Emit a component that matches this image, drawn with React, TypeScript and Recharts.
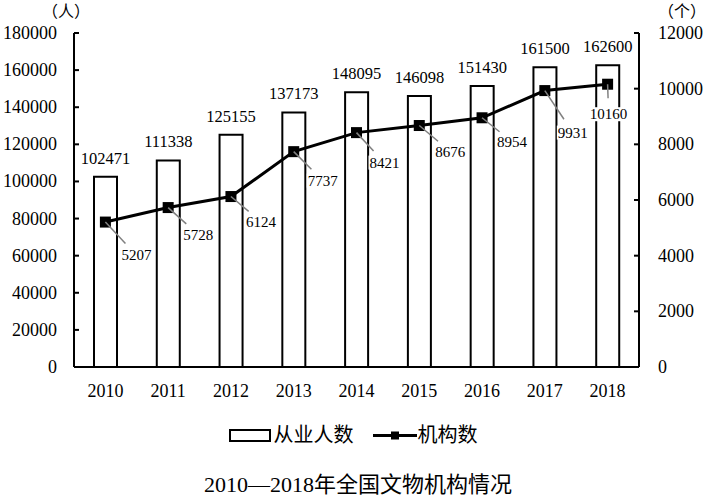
import React from 'react';
import { ComposedChart, Bar, Line, XAxis, YAxis, Legend, LabelList } from 'recharts';

// ===== data =====
const years = ['2010', '2011', '2012', '2013', '2014', '2015', '2016', '2017', '2018'];
const staffCount = [102471, 111338, 125155, 137173, 148095, 146098, 151430, 161500, 162600];
const orgCount = [5207, 5728, 6124, 7737, 8421, 8676, 8954, 9931, 10160];
const leftTicks = [0, 20000, 40000, 60000, 80000, 100000, 120000, 140000, 160000, 180000];
const rightTicks = [0, 2000, 4000, 6000, 8000, 10000, 12000];

// where each 机构数 label sits, relative to its marker
const orgLabelShift = [
  [31, 33], [30, 27], [30, 25], [29, 29], [28, 30], [31, 26], [30, 24], [28, 42], [1, 30],
];

const chartData = years.map((year, i) => ({ year, staff: staffCount[i], orgs: orgCount[i] }));

const SERIF = "'Liberation Serif', 'Times New Roman', 'Noto Sans CJK SC', serif";

const LeftTick = (props: any) => {
  const { x, y, payload } = props;
  return (
    <g>
      <line x1={x + 17} x2={x + 22} y1={y} y2={y} stroke="#000" strokeWidth={2} />
      <text x={x} y={y} dy={6} textAnchor="end" fontSize={18} fontFamily={SERIF} fill="#000">
        {payload.value}
      </text>
    </g>
  );
};

const RightTick = (props: any) => {
  const { x, y, payload } = props;
  return (
    <g>
      <line x1={x - 19} x2={x - 24} y1={y} y2={y} stroke="#000" strokeWidth={2} />
      <text x={x} y={y} dy={6} textAnchor="start" fontSize={18} fontFamily={SERIF} fill="#000">
        {payload.value}
      </text>
    </g>
  );
};

const SquareDot = (props: any) => {
  const { cx, cy } = props;
  if (cx == null || cy == null) return null;
  return <rect x={cx - 5.5} y={cy - 5.5} width={11} height={11} fill="#000" />;
};

const OrgLabel = (props: any) => {
  const { x, y, value, index } = props;
  const [dx, dy] = orgLabelShift[index] || [30, 30];
  const len = Math.hypot(dx, dy);
  const cx = x + dx;
  const cy = y + dy;
  const w = String(value).length * 7.5 + 2;
  return (
    <g>
      <line
        x1={x}
        y1={y}
        x2={cx - (dx / len) * 16}
        y2={cy - (dy / len) * 16}
        stroke="#808080"
        strokeWidth={1.5}
      />
      <rect x={cx - w / 2} y={cy - 7} width={w} height={14} fill="#fff" />
      <text x={cx} y={cy} dy={5} textAnchor="middle" fontSize={15} fontFamily={SERIF} fill="#000">
        {value}
      </text>
    </g>
  );
};

const LegendContent = () => (
  <div
    style={{
      display: 'flex',
      justifyContent: 'center',
      alignItems: 'center',
      fontSize: 20,
      fontFamily: SERIF,
      color: '#000',
      lineHeight: '24px',
    }}
  >
    <svg width={42} height={13}>
      <rect x={1} y={1} width={40} height={11} fill="#fff" stroke="#000" strokeWidth={2} />
    </svg>
    <span style={{ marginLeft: 3 }}>从业人数</span>
    <svg width={46} height={13} style={{ marginLeft: 18 }}>
      <line x1={1} x2={45} y1={6.5} y2={6.5} stroke="#000" strokeWidth={3} />
      <rect x={19} y={2.5} width={8} height={8} fill="#000" />
    </svg>
    <span>机构数</span>
  </div>
);

export default function App() {
  return (
    <div style={{ position: 'absolute', left: 0, top: 0, width: 706, height: 496, background: '#fff' }}>
      <ComposedChart
        width={706}
        height={496}
        data={chartData}
        margin={{ top: 33, right: 10, left: 0, bottom: 99 }}
        barSize={23}
      >
        <XAxis
          dataKey="year"
          axisLine={{ stroke: '#000', strokeWidth: 2 }}
          tickLine={false}
          tickSize={0}
          tickMargin={17}
          height={30}
          tick={{ fill: '#000', fontSize: 18, fontFamily: SERIF }}
        />
        <YAxis
          yAxisId="left"
          domain={[0, 180000]}
          ticks={leftTicks}
          interval={0}
          width={74}
          axisLine={{ stroke: '#000', strokeWidth: 2 }}
          tickLine={false}
          tickSize={0}
          tickMargin={17}
          tick={<LeftTick />}
        />
        <YAxis
          yAxisId="right"
          orientation="right"
          domain={[0, 12000]}
          ticks={rightTicks}
          interval={0}
          width={57}
          axisLine={{ stroke: '#000', strokeWidth: 2 }}
          tickLine={false}
          tickSize={0}
          tickMargin={19}
          tick={<RightTick />}
        />
        <Legend
          layout="horizontal"
          verticalAlign="middle"
          align="center"
          content={<LegendContent />}
          wrapperStyle={{ top: 423, left: 0, width: 706, height: 24 }}
        />
        <Bar
          yAxisId="left"
          dataKey="staff"
          name="从业人数"
          fill="#fff"
          stroke="#000"
          strokeWidth={2}
          isAnimationActive={false}
        >
          <LabelList
            dataKey="staff"
            position="top"
            offset={13}
            fill="#000"
            fontSize={16.5}
            fontFamily={SERIF}
          />
        </Bar>
        <Line
          yAxisId="right"
          dataKey="orgs"
          name="机构数"
          stroke="#000"
          strokeWidth={3}
          dot={<SquareDot />}
          activeDot={false}
          isAnimationActive={false}
        >
          <LabelList dataKey="orgs" content={<OrgLabel />} />
        </Line>
      </ComposedChart>
      <div
        style={{
          position: 'absolute', left: 36, top: 1, width: 60, textAlign: 'center',
          fontSize: 16, fontFamily: SERIF, lineHeight: '22px',
        }}
      >
        （人）
      </div>
      <div
        style={{
          position: 'absolute', left: 652, top: 1, width: 60, textAlign: 'center',
          fontSize: 16, fontFamily: SERIF, lineHeight: '22px',
        }}
      >
        （个）
      </div>
      <div
        style={{
          position: 'absolute', left: 0, top: 472, width: 716, textAlign: 'center',
          fontSize: 22, fontFamily: SERIF, lineHeight: '26px', color: '#000',
        }}
      >
        2010—2018年全国文物机构情况
      </div>
    </div>
  );
}
